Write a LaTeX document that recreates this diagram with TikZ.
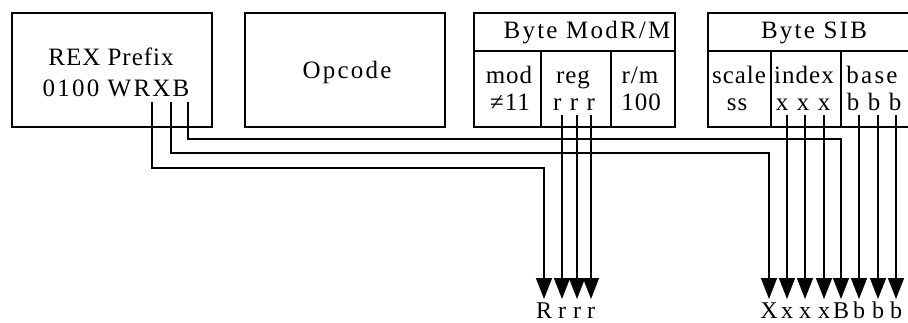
\documentclass[tikz,border=0pt]{standalone}
\usepackage{fontspec}
\setmainfont{Liberation Serif}
\newfontfamily\spaced{Liberation Serif}[LetterSpace=9]
\newfontfamily\tightsp{Liberation Serif}[LetterSpace=4]
\usetikzlibrary{arrows.meta}
\tikzset{
  boxline/.style={draw, line width=1.7pt},
  txt/.style={font=\fontsize{25}{28}\selectfont\spaced, anchor=base, inner sep=0pt},
  ctxt/.style={font=\fontsize{25}{28}\selectfont\tightsp, anchor=base, inner sep=0pt},
  wire/.style={line width=1.6pt},
  arr/.style={wire, -{Triangle[length=21pt,width=16pt]}},
  lab/.style={font=\fontsize{24}{26}\selectfont, anchor=base, inner sep=0pt},
}
\begin{document}
\begin{tikzpicture}[x=1pt,y=-1pt]
\useasboundingbox (0,0) rectangle (908,322);
\clip (0,0) rectangle (908,322);
% boxes
\draw[boxline] (12,13) rectangle (212,127);
\draw[boxline] (245,13) rectangle (445,127);
\draw[boxline] (474,13) rectangle (675,127);
\draw[boxline] (474,51) -- (675,51);
\draw[boxline] (541,51) -- (541,127);
\draw[boxline] (611,51) -- (611,127);
\draw[boxline] (915,13) -- (708,13) -- (708,127) -- (915,127);
\draw[boxline] (708,51) -- (915,51);
\draw[boxline] (771,51) -- (771,127);
\draw[boxline] (841,51) -- (841,127);
% texts
\node[ctxt] (rex1) at (111,65) {REX Prefix};
\node[txt] (rex2) at (116,96) {0100\,\,WRXB};
\node[txt] (opc) at (347,78) {Opcode};
\node[txt] (modrm) at (587,38) {Byte ModR/M};
\node[txt] (sib) at (814,38) {Byte SIB};
\node[ctxt] (mod1) at (509,83) {mod};
\node[ctxt] (mod2) at (510,110) {≠11};
\node[ctxt] (reg1) at (573,83) {reg};
\node[txt] (reg2) at (574,110) {r r r};
\node[ctxt] (rm1) at (640,83) {r/m};
\node[ctxt] (rm2) at (641,110) {100};
\node[ctxt] (sc1) at (739,83) {scale};
\node[ctxt] (sc2) at (737,110) {ss};
\node[ctxt] (ix1) at (804,83) {index};
\node[txt] (ix2) at (803,110) {x x x};
\node[txt] (bs1) at (872,83) {base};
\node[txt] (bs2) at (874,110) {b b b};
% sources
\coordinate (sR) at (152,102);
\coordinate (sX) at (171,102);
\coordinate (sB) at (188,102);
\coordinate (sr1) at (562,115);
\coordinate (sr2) at (577,115);
\coordinate (sr3) at (591,115);
\coordinate (sx1) at (787,115);
\coordinate (sx2) at (805,115);
\coordinate (sx3) at (824,115);
\coordinate (sb1) at (859,115);
\coordinate (sb2) at (878,115);
\coordinate (sb3) at (896,115);
% tips
\coordinate (tR) at (544,299);
\coordinate (tr1) at (562,299);
\coordinate (tr2) at (577,299);
\coordinate (tr3) at (591,299);
\coordinate (tX) at (769,299);
\coordinate (tx1) at (787,299);
\coordinate (tx2) at (805,299);
\coordinate (tx3) at (824,299);
\coordinate (tB) at (841,299);
\coordinate (tb1) at (859,299);
\coordinate (tb2) at (878,299);
\coordinate (tb3) at (896,299);
% labels
\node[lab] (lR) at (544,318) {R};
\node[lab] (lr1) at (562,318) {r};
\node[lab] (lr2) at (577,318) {r};
\node[lab] (lr3) at (591,318) {r};
\node[lab] (lX) at (769,318) {X};
\node[lab] (lx1) at (787,318) {x};
\node[lab] (lx2) at (805,318) {x};
\node[lab] (lx3) at (824,318) {x};
\node[lab] (lB) at (841,318) {B};
\node[lab] (lb1) at (859,318) {b};
\node[lab] (lb2) at (878,318) {b};
\node[lab] (lb3) at (896,318) {b};
% connectors
\draw[arr] (sR) -- ++(0,66) -| (tR);
\draw[arr] (sX) -- ++(0,51) -| (tX);
\draw[arr] (sB) -- ++(0,37) -| (tB);
\draw[arr] (sr1) -- (tr1);
\draw[arr] (sr2) -- (tr2);
\draw[arr] (sr3) -- (tr3);
\draw[arr] (sx1) -- (tx1);
\draw[arr] (sx2) -- (tx2);
\draw[arr] (sx3) -- (tx3);
\draw[arr] (sb1) -- (tb1);
\draw[arr] (sb2) -- (tb2);
\draw[arr] (sb3) -- (tb3);
\end{tikzpicture}
\end{document}
